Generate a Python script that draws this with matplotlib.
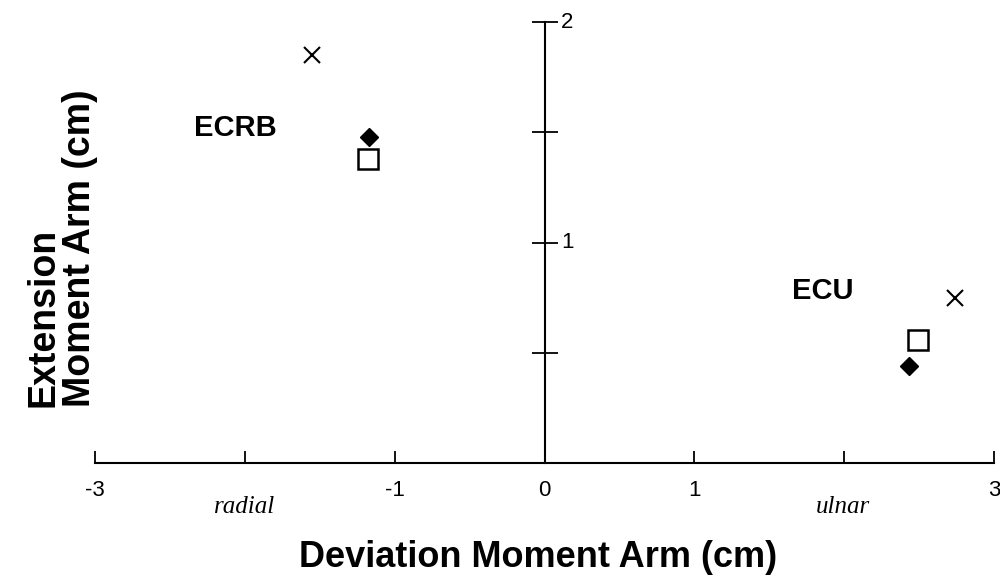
import matplotlib
matplotlib.use("Agg")
import matplotlib.pyplot as plt

# Data (moment arms, cm)
muscles = ["ECRB", "ECU"]
cross_x = [-1.55, 2.74]
cross_y = [1.85, 0.75]
diamond_x = [-1.17, 2.43]
diamond_y = [1.48, 0.44]
square_x = [-1.18, 2.49]
square_y = [1.38, 0.56]
label_pos_x = [-2.06, 1.855]
label_pos_y = [1.52, 0.78]

x_ticks = [-3, -2, -1, 0, 1, 2, 3]
x_ticklabels = ["-3", "", "-1", "0", "1", "", "3"]
y_ticks = [0.5, 1.0, 1.5, 2.0]
y_ticklabels = ["", "1", "", "2"]

sans = ["Liberation Sans", "DejaVu Sans"]
serif = ["Liberation Serif", "DejaVu Serif"]
plt.rcParams['font.family'] = sans

fig = plt.figure(figsize=(10, 5.8), dpi=100)
ax = fig.add_axes([0.095, 0.2017, 0.899, 0.760])
ax.set_xlim(-3, 3)
ax.set_ylim(0, 2)

ax.plot(cross_x, cross_y, linestyle="none", marker="x", markersize=11,
        markeredgewidth=1.5, color="black", clip_on=False)
ax.plot(diamond_x, diamond_y, linestyle="none", marker="D", markersize=9,
        color="black", clip_on=False)
ax.plot(square_x, square_y, linestyle="none", marker="s", markersize=14,
        markerfacecolor="white", markeredgecolor="black", markeredgewidth=1.8,
        clip_on=False)

for name, lx, ly in zip(muscles, label_pos_x, label_pos_y):
    ax.text(lx, ly, name, ha="center", va="center", fontsize=21,
            fontweight="bold", family=sans)

# spines
for s in ["top", "right"]:
    ax.spines[s].set_visible(False)
ax.spines["left"].set_position(("data", 0))
ax.spines["bottom"].set_position(("data", 0))
ax.spines["left"].set_linewidth(1.5)
ax.spines["bottom"].set_linewidth(1.5)

ax.set_xticks(x_ticks)
ax.set_xticklabels(x_ticklabels)
ax.set_yticks(y_ticks)
ax.set_yticklabels(y_ticklabels)
ax.tick_params(axis="x", direction="in", length=8.5, width=1.3, labelsize=16, pad=12)
ax.yaxis.set_ticks_position("left")
ax.tick_params(axis="y", direction="inout", length=19, width=1.3,
               labelleft=False, labelright=False)
for y, lab in zip(y_ticks, y_ticklabels):
    if lab:
        ax.text(0.11, y, lab, ha="left", va="center", fontsize=16, family=sans)

ax.text(-2.0, -0.2, "radial", ha="center", va="center", fontsize=18,
        style="italic", family=serif)
ax.text(1.99, -0.2, "ulnar", ha="center", va="center", fontsize=18,
        style="italic", family=serif)

fig.text(0.538, 0.038, "Deviation Moment Arm (cm)", ha="center", va="center",
         fontsize=26, fontweight="bold", family=sans)
fig.text(0.062, 0.572, "Extension\nMoment Arm (cm)", ha="center", va="center",
         rotation=90, fontsize=27, fontweight="bold", family=sans,
         linespacing=1.0, multialignment="left")

fig.savefig("out.png", dpi=100)
